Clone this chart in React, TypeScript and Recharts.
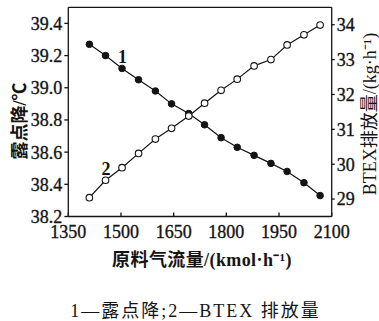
import React from 'react';
import { LineChart, Line, XAxis, YAxis, ReferenceLine } from 'recharts';

// feed gas flow, kmol/h
const flowRates = [1410, 1456, 1503, 1550, 1598, 1644, 1693, 1738, 1785, 1831, 1879, 1927, 1973, 2021, 2067];
// 1 - dew point depression, °C
const dewPointDrop = [39.27, 39.2, 39.12, 39.05, 38.98, 38.9, 38.84, 38.77, 38.69, 38.63, 38.58, 38.53, 38.48, 38.41, 38.33];
// 2 - BTEX emission, kg/h
const btexEmission = [29.04, 29.54, 29.9, 30.31, 30.72, 31.03, 31.38, 31.75, 32.12, 32.44, 32.82, 33.0, 33.42, 33.71, 33.99];

const xTicks = [1350, 1500, 1650, 1800, 1950, 2100];
const leftTicks = [38.2, 38.4, 38.6, 38.8, 39.0, 39.2, 39.4];
const rightTicks = [29, 30, 31, 32, 33, 34];

const data = flowRates.map((f, i) => ({ flow: f, dew: dewPointDrop[i], btex: btexEmission[i] }));

const FONT = '"Liberation Serif", "Noto Sans CJK SC", serif';
const INK = '#141414';

// slightly heavier than regular, the scan looks thick
const tickStyle = { fontFamily: FONT, fontSize: 18, fill: INK, stroke: INK, strokeWidth: 0.35 };

const seriesTag = (tag: string, at: number) => (p: any) =>
  p.index === at ? (
    <text x={p.x + 0.5} y={p.y - 5} textAnchor="middle" fontFamily={FONT} fontSize={18} fontWeight="bold" fill={INK}>
      {tag}
    </text>
  ) : null;

export default function App() {
  return (
    <div style={{ position: 'absolute', left: 0, top: 0, width: 379, height: 321, overflow: 'hidden', background: '#fff', fontFamily: FONT, color: INK }}>
      <LineChart width={379} height={321} data={data} margin={{ top: 7.3, right: 0, bottom: 0, left: 0 }}>
        <XAxis
          dataKey="flow"
          type="number"
          domain={[1350, 2100]}
          ticks={xTicks}
          height={104.5}
          stroke={INK}
          strokeWidth={1.3}
          tickSize={-4}
          tickMargin={13}
          tick={tickStyle}
          allowDataOverflow
        />
        <YAxis
          yAxisId="left"
          domain={[38.2, 39.5]}
          ticks={leftTicks}
          tickFormatter={(v: number) => v.toFixed(1)}
          width={68.3}
          stroke={INK}
          strokeWidth={1.3}
          tickSize={4}
          tickMargin={2}
          tick={tickStyle}
          allowDataOverflow
        />
        <YAxis
          yAxisId="right"
          orientation="right"
          domain={[28.5, 34.5]}
          ticks={rightTicks}
          width={47.3}
          stroke={INK}
          strokeWidth={1.3}
          tickSize={3}
          tickMargin={2}
          tick={tickStyle}
          allowDataOverflow
        />
        <ReferenceLine yAxisId="left" y={39.5} stroke={INK} strokeWidth={1.3} ifOverflow="visible" />
        <Line
          yAxisId="left"
          dataKey="dew"
          stroke={INK}
          strokeWidth={1.2}
          dot={{ r: 3.3, fill: INK, stroke: INK, strokeWidth: 1 }}
          label={seriesTag('1', 2)}
          isAnimationActive={false}
        />
        <Line
          yAxisId="right"
          dataKey="btex"
          stroke={INK}
          strokeWidth={1.2}
          dot={{ r: 3.3, fill: '#fff', stroke: INK, strokeWidth: 1.1 }}
          label={seriesTag('2', 1)}
          isAnimationActive={false}
        />
      </LineChart>

      {/* axis titles */}
      <div style={{ position: 'absolute', left: 20, top: 121, transform: 'translate(-50%, -50%) rotate(-90deg)', whiteSpace: 'nowrap', fontSize: 18, lineHeight: 1, fontWeight: 'bold' }}>
        露点降/℃
      </div>
      <div style={{ position: 'absolute', left: 369.5, top: 114, transform: 'translate(-50%, -50%) rotate(-90deg)', whiteSpace: 'nowrap', fontSize: 18, lineHeight: 1 }}>
        BTEX排放量/(kg·h⁻¹)
      </div>
      <div style={{ position: 'absolute', left: 202, top: 260, transform: 'translate(-50%, -50%)', whiteSpace: 'nowrap', fontSize: 18, lineHeight: 1, letterSpacing: 0.4, fontWeight: 'bold' }}>
        原料气流量/(kmol·h⁻¹)
      </div>

      {/* caption */}
      <div style={{ position: 'absolute', left: 195.5, top: 311, transform: 'translate(-50%, -50%)', whiteSpace: 'nowrap', fontSize: 18, lineHeight: 1, letterSpacing: 2 }}>
        1—露点降;2—BTEX 排放量
      </div>
    </div>
  );
}
